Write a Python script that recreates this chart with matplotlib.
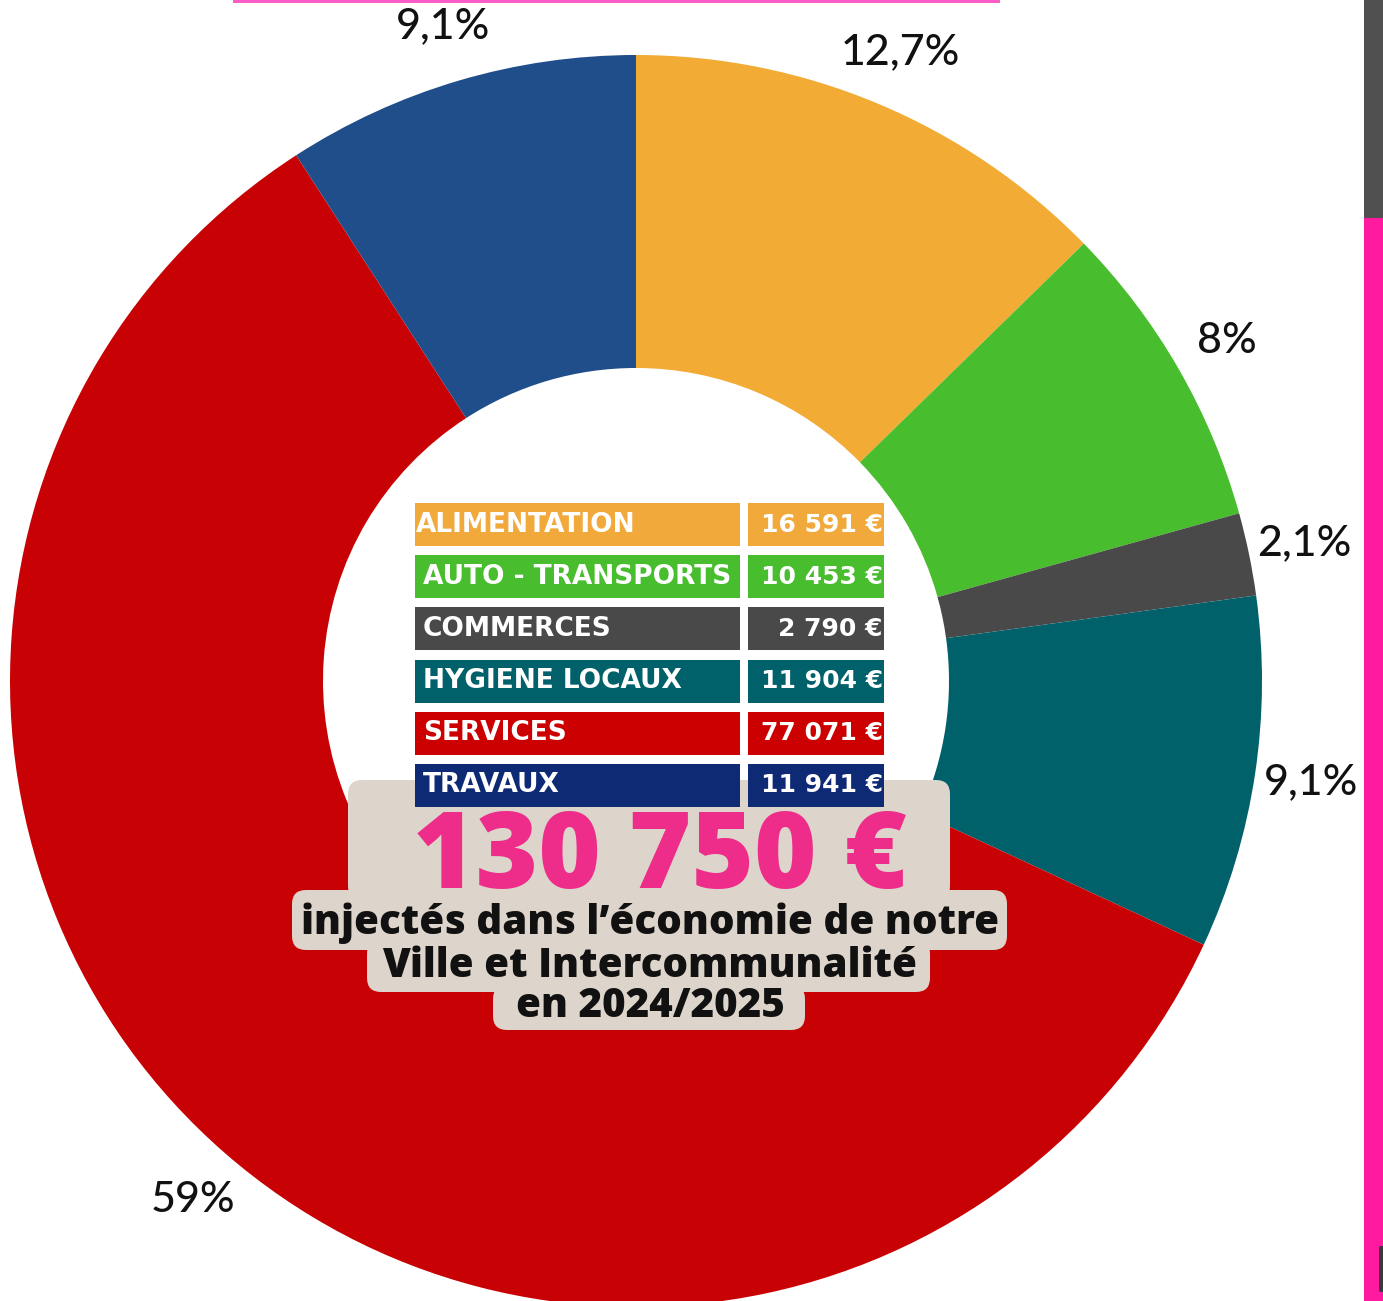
import numpy as np
import matplotlib.pyplot as plt
from matplotlib.patches import FancyBboxPatch, Rectangle

# donnees
categories = ['ALIMENTATION', 'AUTO - TRANSPORTS', 'COMMERCES',
              'HYGIENE LOCAUX', 'SERVICES', 'TRAVAUX']
montants = [16591, 10453, 2790, 11904, 77071, 11941]
montants_txt = ['16 591 €', '10 453 €', '2 790 €', '11 904 €', '77 071 €', '11 941 €']
pourcentages = ['12,7%', '8%', '2,1%', '9,1%', '59%', '9,1%']
total_txt = '130 750 €'
sous_titre = ["injectés dans l\u2019économie de notre",
              "Ville et Intercommunalité",
              "en 2024/2025"]

couleurs_anneau = ['#F2AB35', '#48BD2D', '#4A4949', '#00616A', '#C80204', '#1F4E8B']
couleurs_table = ['#F2A93B', '#48BD2D', '#4A4949', '#00616A', '#CC0000', '#0F2A75']

W, H = 1383, 1301
FONT_PCT = ['Lato', 'DejaVu Sans']
FONT = ['Open Sans', 'DejaVu Sans']
FONT_TABLE = ['DejaVu Sans']

fig = plt.figure(figsize=(W / 100, H / 100), dpi=100)
ax = fig.add_axes([0, 0, 1, 1])

def Y(y):
    # pixels depuis le haut -> coordonnees axes
    return H - y

cx, cy, R = 636, Y(681), 626

wedges, _ = ax.pie(montants, colors=couleurs_anneau, startangle=90,
                   counterclock=False, radius=R, center=(cx, cy),
                   wedgeprops=dict(width=R * 0.5, linewidth=0),
                   frame=True)
ax.set_xlim(0, W)
ax.set_ylim(0, H)
ax.axis('off')

# etiquettes en pourcentage
for i, w in enumerate(wedges):
    ang = np.deg2rad((w.theta1 + w.theta2) / 2)
    if categories[i] == 'SERVICES':
        ang = np.deg2rad(-130.5)
    r = R * 1.09
    ax.text(cx + r * np.cos(ang), cy + r * np.sin(ang), pourcentages[i],
            ha='center', va='center', fontsize=31, color='#111111',
            family=FONT_PCT, fontweight='medium')

# fond beige du total
beige = '#DDD5CB'
for (x0, y0, x1, y1) in [(348, 780, 950, 900), (292, 890, 1007, 950),
                         (367, 940, 930, 992), (493, 985, 805, 1030)]:
    ax.add_patch(FancyBboxPatch((x0 + 14, Y(y1) + 14), x1 - x0 - 28, y1 - y0 - 28,
                                boxstyle='round,pad=14', fc=beige, ec='none', zorder=3))

# table des montants
for i, cat in enumerate(categories):
    top = 503 + i * 52.2
    h = 43
    ax.add_patch(Rectangle((415, Y(top + h)), 325, h, fc=couleurs_table[i], ec='none', zorder=4))
    ax.add_patch(Rectangle((748, Y(top + h)), 136, h, fc=couleurs_table[i], ec='none', zorder=4))
    xl = 416 if i == 0 else 423
    ax.text(xl, Y(top + h / 2), cat, ha='left', va='center', fontsize=19,
            color='white', family=FONT_TABLE, fontweight='bold', zorder=5)
    ax.text(883, Y(top + h / 2), montants_txt[i], ha='right', va='center', fontsize=18,
            color='white', family=FONT_TABLE, fontweight='bold', zorder=5)

ax.text(660, Y(888), total_txt, ha='center', va='baseline', fontsize=77,
        color='#EE2D8A', family=FONT, fontweight='heavy', zorder=5)
for j, (line, yy) in enumerate(zip(sous_titre, [934, 977, 1017])):
    ax.text(650, Y(yy), line, ha='center', va='baseline', fontsize=29,
            color='#111111', family=FONT, fontweight='heavy', zorder=5)

# bordures du cadre
ax.add_patch(Rectangle((233, Y(3)), 767, 5, fc='#FF5CC8', ec='none', zorder=6))
ax.add_patch(Rectangle((1364, Y(218)), 19, 218, fc='#505050', ec='none', zorder=6))
ax.add_patch(Rectangle((1364, 0), 19, Y(218), fc='#FF1AA0', ec='none', zorder=6))
ax.add_patch(FancyBboxPatch((1381, Y(1290)), 4, 42, boxstyle='round,pad=2',
                            fc='#3A3A3A', ec='none', zorder=7))

fig.savefig('out.png', dpi=100)
